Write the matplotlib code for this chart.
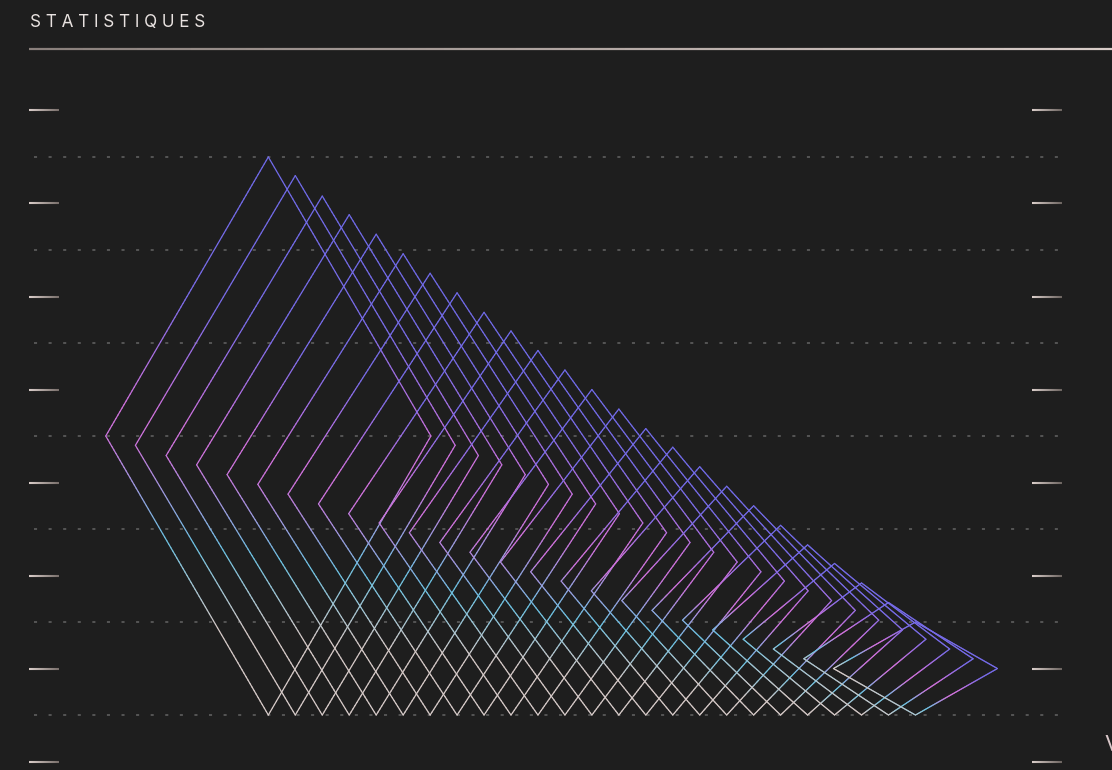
import matplotlib
matplotlib.use("Agg")
import matplotlib.pyplot as plt
import numpy as np
from matplotlib.collections import LineCollection
from matplotlib.colors import LinearSegmentedColormap
import matplotlib.transforms as mtransforms

# data
ranks = [1, 2, 3, 4, 5, 6, 7, 8, 9, 10, 11, 12, 13, 14, 15, 16, 17, 18, 19, 20, 21, 22, 23, 24, 25]
heights = [6.00, 5.80, 5.58, 5.38, 5.17, 4.96, 4.75, 4.54, 4.33, 4.13, 3.92, 3.71, 3.50,
           3.29, 3.08, 2.88, 2.67, 2.46, 2.25, 2.04, 1.83, 1.63, 1.42, 1.21, 1.00]
half_widths = [6.03, 5.93, 5.79, 5.66, 5.53, 5.39, 5.27, 5.14, 5.02, 4.89, 4.77, 4.64, 4.52,
               4.39, 4.27, 4.14, 4.02, 3.89, 3.77, 3.64, 3.52, 3.39, 3.27, 3.14, 3.04]
grid_levels = [0, 1, 2, 3, 4, 5, 6]
tick_levels = [-0.5, 0.5, 1.5, 2.5, 3.5, 4.5, 5.5, 6.5]
title = "STATISTIQUES"

BG = "#1e1e1e"
cmap = LinearSegmentedColormap.from_list("stroke", [
    (0.00, "#6e6ae8"),
    (0.28, "#7a6ce8"),
    (0.48, "#d072dc"),
    (0.54, "#cc74dc"),
    (0.70, "#6cc2e2"),
    (0.84, "#d4c8c6"),
    (1.00, "#d9cdcb"),
])

fig = plt.figure(figsize=(11.12, 7.70), dpi=100, facecolor=BG)
ax = fig.add_axes([0, 0, 1, 1])
ax.set_facecolor(BG)
ax.set_xlim(-8.952, 32.29)
ax.set_ylim(-0.591, 7.688)
ax.axis("off")

# dotted grid
plt.rcParams["lines.scale_dashes"] = False
trans = mtransforms.blended_transform_factory(ax.transAxes, ax.transData)
for g in grid_levels:
    ax.plot([0.031, 0.955], [g, g], transform=trans, color="#555555", lw=1.4,
            ls=(0, (2.2, 8.3)), solid_capstyle="butt")


def grad_line(ax, x0, x1, y, c0, c1, lw, transform, n=30):
    xs = np.linspace(x0, x1, n + 1)
    segs = [[(xs[k], y), (xs[k + 1], y)] for k in range(n)]
    cm = LinearSegmentedColormap.from_list("g", [c0, c1])
    cols = cm(np.linspace(0, 1, n))
    ax.add_collection(LineCollection(segs, colors=cols, linewidths=lw, transform=transform))


# side ticks
for t in tick_levels:
    grad_line(ax, 0.026, 0.053, t, "#d8ccc8", "#7a706c", 1.5, trans)
    grad_line(ax, 0.928, 0.955, t, "#d8ccc8", "#6e6662", 1.5, trans)

# pixel scale of the data units
sx = ax.transData.transform((1, 0))[0] - ax.transData.transform((0, 0))[0]
sy = ax.transData.transform((0, 1))[1] - ax.transData.transform((0, 0))[1]

# rhombi with gradient strokes (direction tilts as the shapes flatten)
for c, h, hw in zip(ranks, heights, half_widths):
    verts = np.array([(c - hw, h / 2), (c, h), (c + hw, h / 2), (c, 0), (c - hw, h / 2)])
    pts = []
    for k in range(4):
        a, b = verts[k], verts[k + 1]
        s = np.linspace(0, 1, 81)[:, None]
        seg = a + (b - a) * s
        pts.append(seg if k == 0 else seg[1:])
    pts = np.vstack(pts)
    W, H = 2 * hw * sx, h * sy
    w = (W ** 2 / (W ** 2 + H ** 2)) ** 2
    ka, kb = 0.5 - 0.38 * w, 0.6 * w
    mids = (pts[:-1] + pts[1:]) / 2
    u = (mids[:, 0] - c) / hw
    v = -(mids[:, 1] - h / 2) / (h / 2)
    tt = 0.5 + ka * v - kb * u
    segs = np.stack([pts[:-1], pts[1:]], axis=1)
    ax.add_collection(LineCollection(segs, colors=cmap(np.clip(tt, 0, 1)),
                                     linewidths=0.9, capstyle="round"))

# header
fig.text(30 / 1112, 1 - 27 / 770, " ".join(title), color="#e8e2e0", fontsize=12.3,
         family=["Inter", "DejaVu Sans"], va="baseline", ha="left")
grad_line(ax, 29 / 1112, 1.0, 0, "#8a807c", "#d8ccc8", 1.6,
          mtransforms.blended_transform_factory(ax.transAxes, fig.transFigure), n=60)
ax.collections[-1].set_transform(mtransforms.blended_transform_factory(ax.transAxes, fig.transFigure)
                                 + mtransforms.Affine2D().translate(0, (770 - 48.5)))

fig.text(1104 / 1112, 1 - 751 / 770, "V", color="#d8c6c8", fontsize=16,
         family=["Inter", "DejaVu Sans"], va="baseline", ha="left")

fig.savefig("out.png", dpi=100, facecolor=BG)
